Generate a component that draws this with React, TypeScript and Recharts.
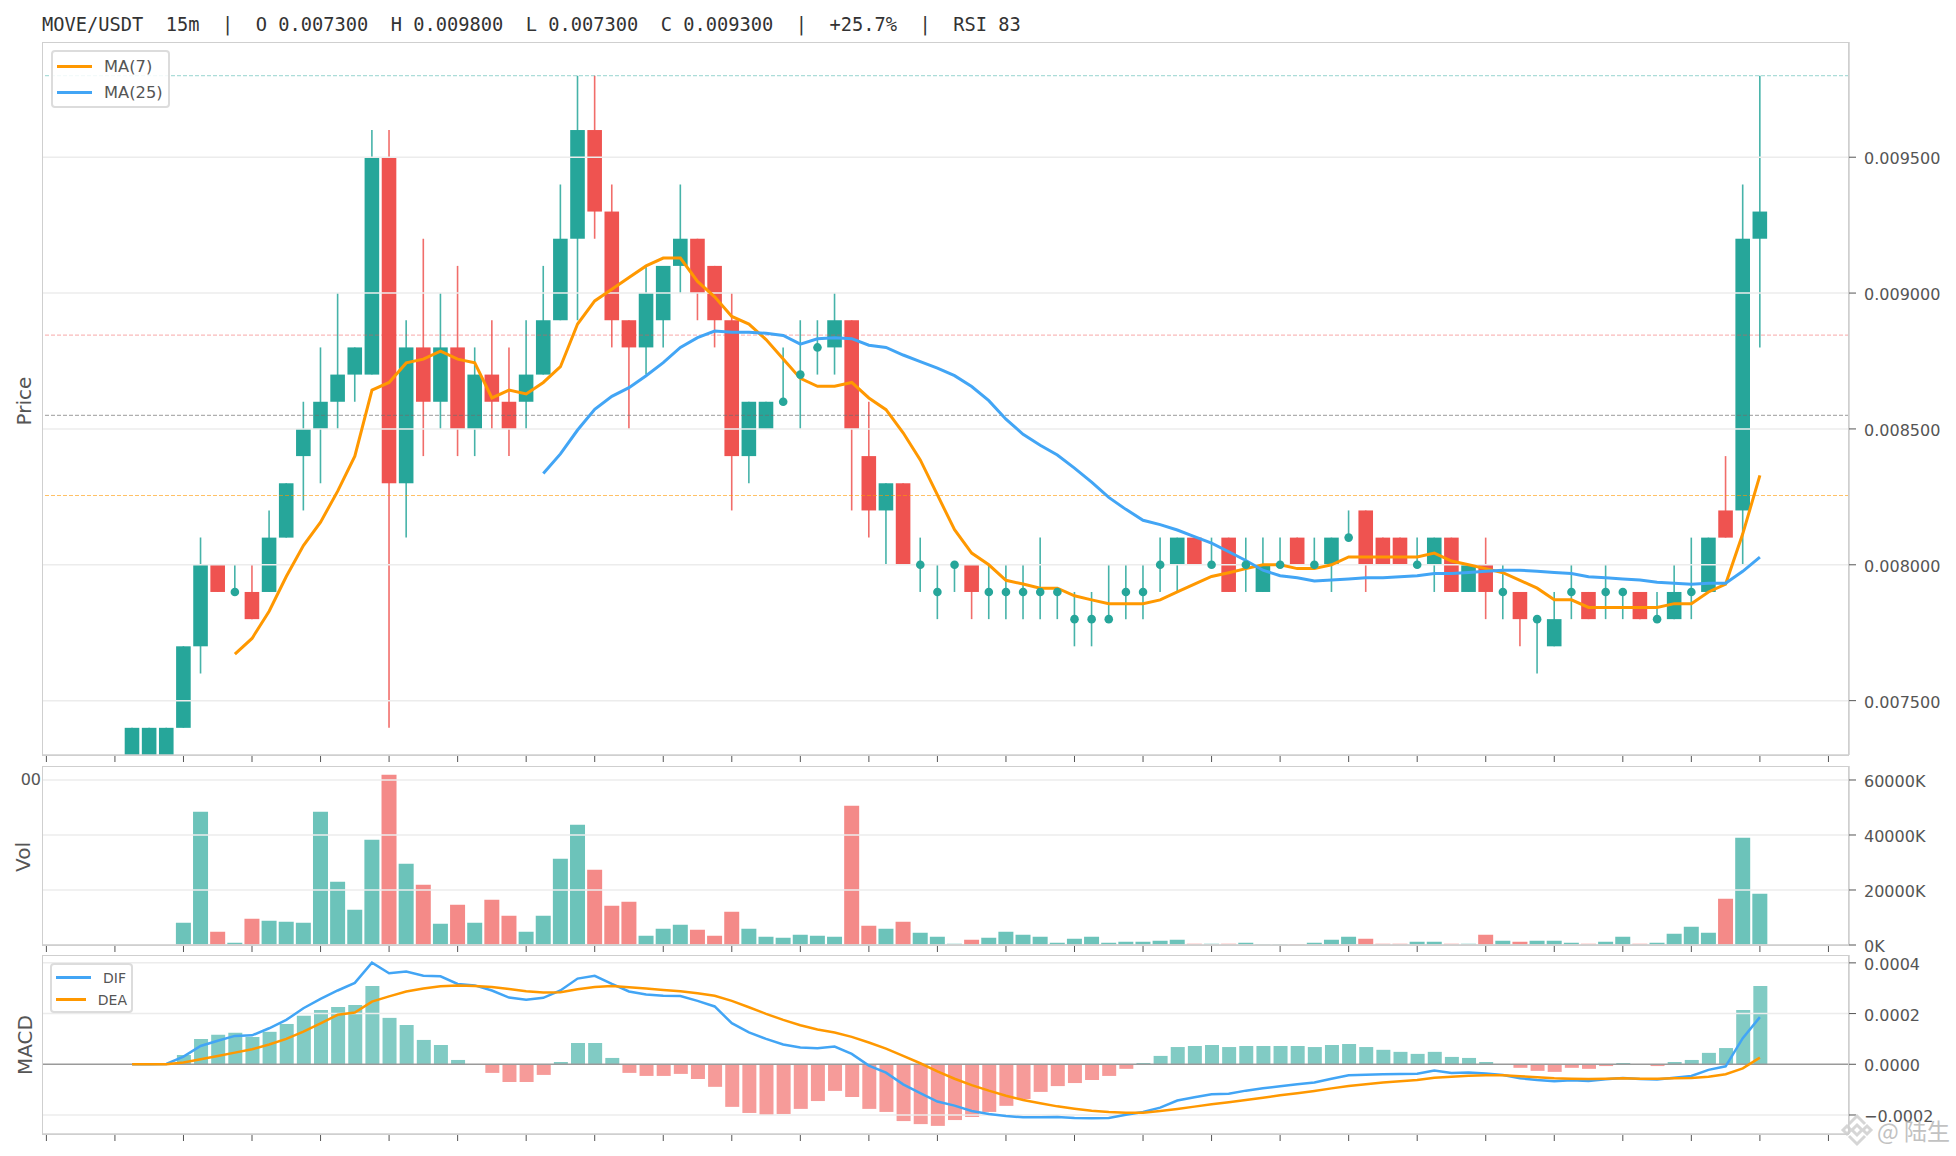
import React from "react"
import {
  ComposedChart,
  Bar,
  Line,
  XAxis,
  YAxis,
  Cell,
  Legend,
  ReferenceLine,
} from "recharts"

// prices in units of 0.0001, first candle sits at slot 5 of the x axis
const firstSlot = 5
const opens = [
  73, 73, 73, 74, 77, 80, 79, 79, 79, 81,
  84, 85, 86, 87, 87, 95, 83, 88, 86, 88,
  85, 87, 86, 86, 87, 89, 92, 96, 93, 89,
  88, 89, 91, 92, 91, 89, 84, 85, 86, 87,
  88, 88, 89, 84, 82, 83, 80, 79, 80, 80,
  79, 79, 79, 79, 79, 78, 78, 78, 79, 79,
  80, 80, 81, 80, 81, 80, 79, 80, 81, 80,
  80, 81, 82, 81, 81, 80, 80, 81, 79, 80,
  79, 79, 78, 77, 79, 79, 79, 79, 79, 78,
  78, 79, 79, 82, 82, 92,
]
const closes = [
  74, 74, 74, 77, 80, 79, 79, 78, 81, 83,
  85, 86, 87, 88, 95, 83, 88, 86, 88, 85,
  87, 86, 85, 87, 89, 92, 96, 93, 89, 88,
  90, 91, 92, 90, 89, 84, 86, 86, 86, 87,
  88, 89, 85, 82, 83, 80, 80, 79, 80, 79,
  79, 79, 79, 79, 79, 78, 78, 78, 79, 79,
  80, 81, 80, 80, 79, 80, 80, 80, 80, 80,
  81, 81, 80, 80, 80, 80, 81, 79, 80, 79,
  79, 78, 78, 78, 79, 78, 79, 79, 78, 78,
  79, 79, 81, 81, 92, 93,
]
const highs = [
  74, 74, 74, 77, 81, 80, 80, 80, 82, 83,
  86, 88, 90, 88, 96, 96, 89, 92, 90, 91,
  88, 89, 88, 89, 91, 94, 98, 98, 94, 89,
  91, 91, 94, 92, 91, 90, 86, 86, 88, 89,
  89, 90, 89, 86, 83, 83, 81, 80, 80, 80,
  80, 80, 80, 81, 79, 79, 79, 80, 80, 80,
  81, 81, 81, 81, 81, 81, 81, 81, 81, 81,
  81, 82, 82, 81, 81, 81, 81, 81, 80, 81,
  80, 79, 78, 79, 80, 79, 80, 79, 79, 79,
  80, 81, 81, 84, 94, 98,
]
const lows = [
  73, 73, 73, 74, 76, 79, 79, 78, 79, 81,
  82, 83, 85, 86, 87, 74, 81, 84, 85, 84,
  84, 85, 84, 85, 87, 89, 89, 92, 88, 85,
  87, 88, 90, 89, 88, 82, 83, 85, 86, 85,
  87, 87, 82, 81, 80, 80, 79, 78, 79, 78,
  78, 78, 78, 78, 78, 77, 77, 78, 78, 78,
  79, 79, 80, 80, 79, 79, 79, 80, 80, 80,
  79, 81, 79, 80, 80, 80, 79, 79, 79, 78,
  78, 77, 76, 77, 78, 78, 78, 78, 78, 78,
  78, 78, 79, 81, 80, 88,
]
const ma7Values = [
  null, null, null, null, null, null, 76.71, 77.29, 78.29, 79.57,
  80.71, 81.57, 82.71, 84, 86.43, 86.71, 87.43, 87.57, 87.86, 87.57,
  87.43, 86.14, 86.43, 86.29, 86.71, 87.29, 88.86, 89.71, 90.14, 90.57,
  91, 91.29, 91.29, 90.43, 89.86, 89.14, 88.86, 88.29, 87.57, 86.86,
  86.57, 86.57, 86.71, 86.14, 85.71, 84.86, 83.86, 82.57, 81.29, 80.43,
  80, 79.43, 79.29, 79.14, 79.14, 78.86, 78.71, 78.57, 78.57, 78.57,
  78.71, 79, 79.29, 79.57, 79.71, 79.86, 80, 80, 79.86, 79.86,
  80, 80.29, 80.29, 80.29, 80.29, 80.29, 80.43, 80.14, 80, 79.86,
  79.71, 79.43, 79.14, 78.71, 78.71, 78.43, 78.43, 78.43, 78.43, 78.43,
  78.57, 78.57, 79, 79.29, 81.14, 83.29,
]
const ma25Values = [
  null, null, null, null, null, null, null, null, null, null,
  null, null, null, null, null, null, null, null, null, null,
  null, null, null, null, 83.36, 84.08, 84.96, 85.72, 86.2, 86.52,
  86.96, 87.44, 88, 88.36, 88.6, 88.56, 88.56, 88.52, 88.44, 88.12,
  88.32, 88.36, 88.32, 88.08, 88, 87.72, 87.48, 87.24, 86.96, 86.56,
  86.04, 85.36, 84.8, 84.4, 84.04, 83.56, 83.04, 82.48, 82.04, 81.64,
  81.48, 81.28, 81.04, 80.8, 80.48, 80.16, 79.8, 79.6, 79.52, 79.4,
  79.44, 79.48, 79.52, 79.52, 79.56, 79.6, 79.68, 79.68, 79.72, 79.76,
  79.8, 79.8, 79.76, 79.72, 79.68, 79.56, 79.52, 79.48, 79.44, 79.36,
  79.32, 79.28, 79.32, 79.32, 79.76, 80.28,
]
// volume in K
const volumes = [
  0, 0, 0, 8120, 48480, 4850, 850, 9580, 8850, 8480,
  8120, 48480, 23030, 12850, 38300, 61930, 29570, 21940, 7760, 14670,
  8120, 16480, 10670, 4850, 10670, 31400, 43750, 27400, 14300, 15760,
  3400, 5940, 7400, 5580, 3400, 12120, 5940, 3030, 2670, 3760,
  3400, 3030, 50660, 7030, 5940, 8480, 4480, 3030, 480, 1940,
  2670, 4850, 3760, 3030, 850, 2300, 3030, 850, 1210, 1210,
  1580, 1940, 480, 480, 480, 850, 400, 400, 400, 850,
  1940, 3030, 2300, 480, 480, 1210, 1210, 480, 480, 3760,
  1580, 1210, 1580, 1580, 850, 480, 1210, 3030, 480, 850,
  4120, 6670, 4480, 16850, 39030, 18670,
]
// MACD values in units of 0.000001
const histValues = [
  0, 0, 0, 37, 100, 116, 124, 108, 128, 159,
  191, 214, 226, 234, 309, 183, 155, 96, 76, 17,
  -1, -34, -70, -70, -42, 9, 84, 84, 25, -34,
  -46, -46, -38, -58, -89, -168, -192, -200, -196, -176,
  -145, -105, -129, -176, -188, -224, -236, -243, -220, -208,
  -188, -164, -137, -109, -86, -74, -62, -46, -18, 5,
  33, 68, 72, 76, 68, 72, 72, 72, 72, 68,
  76, 80, 68, 57, 49, 41, 49, 29, 25, 9,
  -1, -14, -26, -30, -14, -18, -7, 5, 1, -7,
  9, 17, 45, 64, 214, 309,
]
const difValues = [
  0, 0, 1, 30, 72, 93, 112, 114, 142, 175,
  221, 258, 291, 321, 401, 359, 366, 349, 347, 317,
  311, 291, 263, 255, 262, 291, 338, 349, 317, 287,
  275, 270, 269, 250, 228, 162, 126, 100, 78, 66,
  63, 70, 41, -5, -33, -79, -114, -147, -163, -184,
  -196, -204, -209, -209, -208, -212, -213, -212, -199, -188,
  -171, -143, -130, -118, -116, -104, -95, -87, -79, -72,
  -57, -43, -41, -39, -38, -37, -25, -34, -32, -36,
  -42, -55, -62, -67, -63, -66, -59, -54, -58, -60,
  -53, -46, -22, -8, 103, 186,
]
const deaValues = [
  0, 0, 0, 7, 20, 33, 46, 59, 78, 100,
  129, 161, 195, 204, 247, 268, 287, 299, 308, 311,
  309, 305, 297, 288, 283, 284, 296, 305, 309, 304,
  299, 293, 288, 280, 270, 250, 225, 199, 175, 154,
  137, 125, 108, 86, 62, 33, 4, -28, -57, -82,
  -104, -124, -141, -154, -166, -175, -183, -188, -191, -191,
  -184, -176, -167, -158, -150, -141, -132, -122, -114, -105,
  -95, -86, -79, -72, -67, -62, -53, -49, -45, -43,
  -43, -47, -51, -55, -57, -58, -57, -55, -57, -57,
  -55, -54, -49, -39, -16, 26,
]

const xTicks = [0, 4, 8, 12, 16, 20, 24, 28, 32, 36, 40, 44, 48, 52, 56, 60, 64, 68, 72, 76, 80, 84, 88, 92, 96, 100, 104]
const xDomain = [-0.233, 105.2]
const priceTicks = [0.0075, 0.008, 0.0085, 0.009, 0.0095]
const volTicks = [0, 20000, 40000, 60000]
const macdTicks = [-0.0002, 0, 0.0002, 0.0004]
const fibLevels = [
  { value: 0.0098, color: "rgba(38,166,154,0.38)" },
  { value: 0.008845, color: "rgba(239,83,80,0.4)" },
  { value: 0.00855, color: "rgba(110,110,110,0.55)" },
  { value: 0.008255, color: "rgba(255,152,0,0.6)" },
]

const UP = "#26a69a"
const DOWN = "#ef5350"
const ORANGE = "#ff9800"
const BLUE = "#42a5f5"
const GRID = "#ececec"
const FRAME = "#cfcfcf"
const INK = "#555555"
const FONT = "'DejaVu Sans', sans-serif"

const rows = opens.map((open, i) => ({
  slot: firstSlot + i,
  open: open / 10000,
  close: closes[i] / 10000,
  range: [lows[i] / 10000, highs[i] / 10000],
  doji: closes[i] === open ? closes[i] / 10000 : null,
  ma7: ma7Values[i] === null ? null : (ma7Values[i] as number) / 10000,
  ma25: ma25Values[i] === null ? null : (ma25Values[i] as number) / 10000,
  volume: volumes[i],
  hist: histValues[i] / 1000000,
  dif: difValues[i] / 1000000,
  dea: deaValues[i] / 1000000,
  up: closes[i] >= open,
}))

// bar spans low..high, the body is placed proportionally inside it
function Candle(props: any) {
  const { x, y, width, height, payload } = props
  const [low, high] = payload.range
  const cx = x + width / 2
  const toY = (v: number) => y + ((high - v) / (high - low)) * height
  const color = payload.up ? UP : DOWN
  const top = toY(Math.max(payload.open, payload.close))
  const bottom = toY(Math.min(payload.open, payload.close))
  return (
    <g>
      <line x1={cx} x2={cx} y1={y} y2={y + height} stroke={color} strokeWidth={1.6} strokeOpacity={0.85} />
      {payload.open !== payload.close && (
        <rect x={cx - 7.3} y={top} width={14.6} height={bottom - top} fill={color} />
      )}
    </g>
  )
}

function LegendBox({ payload, textSize, rowGap }: any) {
  return (
    <div
      style={{
        boxSizing: "border-box",
        border: "2px solid #dcdcdc",
        borderRadius: 4,
        background: "rgba(255,255,255,0.85)",
        width: "100%",
        height: "100%",
        padding: "2px 4px",
      }}
    >
      {payload
        .filter((p: any) => p.type !== "none")
        .map((p: any) => (
          <div key={p.value} style={{ display: "flex", alignItems: "center", height: rowGap, fontFamily: FONT, fontSize: textSize, color: INK }}>
            <span style={{ display: "inline-block", width: 35, height: 3, background: p.color, marginRight: 12 }} />
            {p.value}
          </div>
        ))}
    </div>
  )
}

function Frame({ top, height }: { top: number; height: number }) {
  return (
    <div
      style={{
        position: "absolute",
        left: 42,
        top,
        width: 1807,
        height,
        boxSizing: "border-box",
        border: `1.5px solid ${FRAME}`,
        pointerEvents: "none",
      }}
    />
  )
}

const axisTick = { fill: INK, fontSize: 16, fontFamily: FONT, dy: 1.5 }
const panelMargin = { top: 2, right: 0, bottom: 2, left: 42.4 }

export default function App() {
  const xAxis = (
    <XAxis
      dataKey="slot"
      type="number"
      domain={xDomain}
      ticks={xTicks}
      tickFormatter={() => ""}
      allowDataOverflow
      height={10}
      tickSize={7}
      tickLine={{ stroke: "#555" }}
      axisLine={{ stroke: FRAME, strokeWidth: 1.5 }}
    />
  )
  return (
    <div style={{ position: "absolute", left: 0, top: 0, width: 1956, height: 1156, background: "#fff", overflow: "hidden", fontFamily: FONT }}>
      <div style={{ position: "absolute", left: 42, top: 14, fontFamily: "'DejaVu Sans Mono', monospace", fontSize: 18.7, color: "#333", whiteSpace: "pre" }}>
        {"MOVE/USDT  15m  |  O 0.007300  H 0.009800  L 0.007300  C 0.009300  |  +25.7%  |  RSI 83"}
      </div>

      {/* price panel */}
      <div style={{ position: "absolute", left: 0, top: 40.3 }}>
        <ComposedChart width={1956} height={727} data={rows} margin={panelMargin}>
          {xAxis}
          <YAxis
            orientation="right"
            width={107}
            domain={[0.0073, 0.009924]}
            allowDataOverflow
            ticks={priceTicks}
            tickFormatter={(v: number) => v.toFixed(6)}
            tick={axisTick}
            tickSize={7}
            tickMargin={8}
            tickLine={{ stroke: "#555" }}
            axisLine={{ stroke: FRAME, strokeWidth: 1.5 }}
          />
          <Legend
            layout="vertical"
            align="center"
            verticalAlign="middle"
            itemSorter={null as any}
            wrapperStyle={{ left: 51, top: 9.7, width: 119, height: 58 }}
            content={(p: any) => <LegendBox {...p} textSize={16.3} rowGap={26} />}
          />
          <Bar dataKey="range" barSize={15} shape={Candle} isAnimationActive={false} legendType="none" />
          {priceTicks.map((v) => (
            <ReferenceLine key={v} y={v} stroke={GRID} strokeWidth={1.5} />
          ))}
          {fibLevels.map((l) => (
            <ReferenceLine key={l.value} y={l.value} stroke={l.color} strokeWidth={1.2} strokeDasharray="4 2" />
          ))}
          <Line dataKey="doji" stroke="none" legendType="none" dot={{ r: 4.3, fill: UP, stroke: "none" }} isAnimationActive={false} />
          <Line dataKey="ma7" name="MA(7)" stroke={ORANGE} strokeWidth={3} dot={false} isAnimationActive={false} />
          <Line dataKey="ma25" name="MA(25)" stroke={BLUE} strokeWidth={3} dot={false} isAnimationActive={false} />
        </ComposedChart>
      </div>

      {/* volume panel */}
      <div style={{ position: "absolute", left: 0, top: 764.3 }}>
        <ComposedChart width={1956} height={193} data={rows} margin={panelMargin}>
          {xAxis}
          <YAxis
            orientation="right"
            width={107}
            domain={[0, 65090]}
            allowDataOverflow
            ticks={volTicks}
            tickFormatter={(v: number) => `${v}K`}
            tick={axisTick}
            tickSize={7}
            tickMargin={8}
            tickLine={{ stroke: "#555" }}
            axisLine={{ stroke: FRAME, strokeWidth: 1.5 }}
          />
          <Bar dataKey="volume" barSize={15} isAnimationActive={false}>
            {rows.map((r) => (
              <Cell key={r.slot} fill={r.up ? UP : DOWN} fillOpacity={0.68} />
            ))}
          </Bar>
          {volTicks.map((v) => (
            <ReferenceLine key={v} y={v} stroke={GRID} strokeWidth={1.5} />
          ))}
        </ComposedChart>
      </div>

      {/* macd panel */}
      <div style={{ position: "absolute", left: 0, top: 953.3 }}>
        <ComposedChart width={1956} height={193} data={rows} margin={panelMargin}>
          {xAxis}
          <YAxis
            orientation="right"
            width={107}
            domain={[-0.000275, 0.000431]}
            allowDataOverflow
            ticks={macdTicks}
            tickFormatter={(v: number) => v.toFixed(4).replace("-", "\u2212")}
            tick={axisTick}
            tickSize={7}
            tickMargin={8}
            tickLine={{ stroke: "#555" }}
            axisLine={{ stroke: FRAME, strokeWidth: 1.5 }}
          />
          <Legend
            layout="vertical"
            align="center"
            verticalAlign="middle"
            itemSorter={null as any}
            wrapperStyle={{ left: 50, top: 9.4, width: 83, height: 50 }}
            content={(p: any) => <LegendBox {...p} textSize={14} rowGap={22} />}
          />
          <Bar dataKey="hist" barSize={14} isAnimationActive={false} legendType="none">
            {rows.map((r) => (
              <Cell key={r.slot} fill={r.hist >= 0 ? UP : DOWN} fillOpacity={0.58} />
            ))}
          </Bar>
          {macdTicks.map((v) => (
            <ReferenceLine key={v} y={v} stroke={v === 0 ? "#9a9a9a" : GRID} strokeWidth={1.5} />
          ))}
          <Line dataKey="dif" name="DIF" stroke={BLUE} strokeWidth={2.5} dot={false} isAnimationActive={false} />
          <Line dataKey="dea" name="DEA" stroke={ORANGE} strokeWidth={2.5} dot={false} isAnimationActive={false} />
        </ComposedChart>
      </div>

      <Frame top={42} height={714} />
      <Frame top={766} height={180} />
      <Frame top={955} height={180} />

      {/* axis titles and stray label */}
      <svg width={1956} height={1156} style={{ position: "absolute", left: 0, top: 0, pointerEvents: "none" }}>
        <g fontFamily={FONT} fontSize={20} fill={INK} textAnchor="middle">
          <text transform="translate(31,401) rotate(-90)">Price</text>
          <text transform="translate(30,857) rotate(-90)">Vol</text>
          <text transform="translate(32,1045) rotate(-90)">MACD</text>
        </g>
        <text x={41} y={785} fontFamily={FONT} fontSize={16} fill={INK} textAnchor="end">00</text>
        {/* watermark */}
        <g transform="translate(1857,1130)" fill="none" stroke="#cfcfcf" strokeWidth={3} opacity={0.85}>
          <path d="M0 -5 L5 0 L0 5 L-5 0 Z" />
          <path d="M-14 0 L-10 -4 L-6 0 L-10 4 Z" />
          <path d="M14 0 L10 -4 L6 0 L10 4 Z" />
          <path d="M-8 -6 L0 -14 L8 -6" />
          <path d="M-8 6 L0 14 L8 6" />
        </g>
        <text x={1877} y={1140} fontFamily="'Noto Sans CJK SC', sans-serif" fontSize={23} fill="#c2c2c2">@ 陆生</text>
      </svg>
    </div>
  )
}
